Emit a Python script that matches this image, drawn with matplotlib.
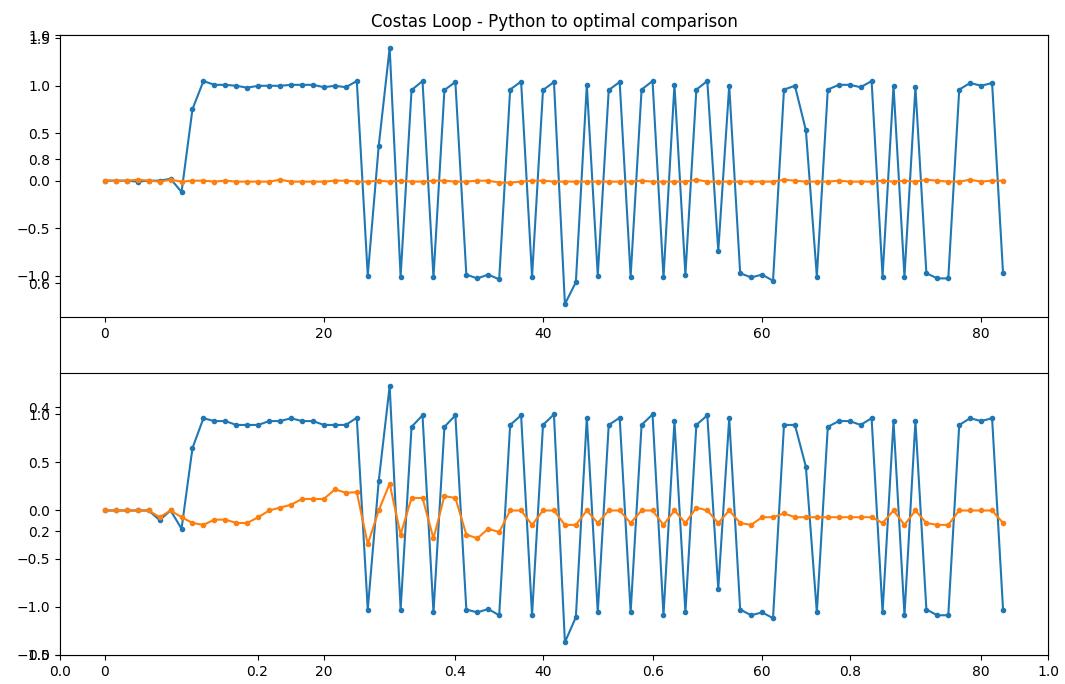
import matplotlib
matplotlib.use('Agg')
from matplotlib import pyplot as plt

# wyjście pętli Costasa - implementacja w Pythonie
python_i = [0, 0, 0, -0.01, 0, 0, 0.02, -0.12, 0.755, 1.05,
            1.01, 1.01, 1.0, 0.98, 1.0, 1.0, 1.0, 1.01, 1.01, 1.01,
            0.985, 1.0, 0.985, 1.05, -1.0, 0.365, 1.40, -1.01, 0.955, 1.05,
            -1.02, 0.955, 1.04, -0.99, -1.03, -0.99, -1.04, 0.96, 1.045, -1.01,
            0.955, 1.04, -1.30, -1.07, 1.01, -1.0, 0.955, 1.04, -1.01, 0.96,
            1.05, -1.02, 1.01, -0.99, 0.96, 1.05, -0.74, 1.0, -0.975, -1.02,
            -0.99, -1.055, 0.96, 1.0, 0.53, -1.01, 0.96, 1.01, 1.01, 0.985,
            1.05, -1.01, 1.0, -1.01, 0.985, -0.975, -1.03, -1.03, 0.96, 1.03,
            1.0, 1.03, -0.975]
python_q = [0, 0, 0, 0.01, 0, -0.01, 0.01, -0.01, 0, 0,
            -0.01, 0, -0.01, -0.01, -0.01, -0.01, 0.01, -0.01, -0.01, -0.01,
            -0.01, 0, 0, -0.01, -0.01, 0, -0.01, 0, -0.01, -0.01,
            0, 0, -0.01, -0.01, 0, 0, -0.02, -0.02, -0.01, 0,
            0, -0.01, -0.01, -0.01, -0.01, -0.01, -0.01, -0.01, -0.01, 0,
            -0.01, -0.01, -0.01, -0.01, 0.01, -0.01, -0.01, -0.01, -0.01, -0.01,
            -0.01, -0.01, 0.01, 0, -0.01, -0.01, -0.01, 0, -0.01, -0.01,
            -0.01, 0, -0.01, 0, -0.01, 0.01, 0, -0.01, -0.01, 0.01,
            -0.01, 0, 0]

# wyjście pętli Costasa - wersja optymalna
optimal_i = [0, 0, 0, 0, 0, -0.10, 0, -0.19, 0.65, 0.96,
             0.93, 0.93, 0.89, 0.89, 0.89, 0.93, 0.93, 0.96, 0.93, 0.93,
             0.89, 0.89, 0.89, 0.965, -1.03, 0.305, 1.295, -1.03, 0.87, 0.99,
             -1.06, 0.87, 0.99, -1.03, -1.06, -1.025, -1.09, 0.89, 0.99, -1.09,
             0.89, 1.0, -1.37, -1.11, 0.965, -1.06, 0.89, 0.965, -1.06, 0.89,
             1.0, -1.09, 0.93, -1.06, 0.89, 0.99, -0.815, 0.96, -1.03, -1.09,
             -1.06, -1.12, 0.89, 0.89, 0.455, -1.06, 0.87, 0.93, 0.93, 0.89,
             0.96, -1.06, 0.93, -1.09, 0.93, -1.03, -1.09, -1.09, 0.89, 0.96,
             0.93, 0.96, -1.03]
optimal_q = [0, 0, 0, 0, 0, -0.07, 0, -0.07, -0.13, -0.15,
             -0.095, -0.095, -0.13, -0.13, -0.07, 0, 0.03, 0.06, 0.12, 0.12,
             0.12, 0.22, 0.185, 0.19, -0.35, 0, 0.28, -0.25, 0.13, 0.13,
             -0.29, 0.15, 0.13, -0.25, -0.29, -0.19, -0.225, 0, 0, -0.15,
             0, 0, -0.15, -0.15, 0, -0.13, 0, 0, -0.13, 0,
             0, -0.15, 0, -0.13, 0.03, 0, -0.13, 0, -0.13, -0.15,
             -0.07, -0.07, -0.03, -0.07, -0.07, -0.07, -0.07, -0.07, -0.07, -0.07,
             -0.07, -0.13, 0, -0.15, 0, -0.13, -0.15, -0.15, 0, 0,
             0, 0, -0.13]

fig, ax = plt.subplots(figsize=(10.65, 6.84), dpi=100)
ax.set_title("Costas Loop - Python to optimal comparison")

ax1 = fig.add_subplot(211)
ax1.plot(python_i, '.-')
ax1.plot(python_q, '.-')

ax2 = fig.add_subplot(212)
ax2.plot(optimal_i, '.-')
ax2.plot(optimal_q, '.-')

plt.subplots_adjust(left=0.0563, right=0.984, top=0.9488, bottom=0.0424)
plt.savefig('out.png')
